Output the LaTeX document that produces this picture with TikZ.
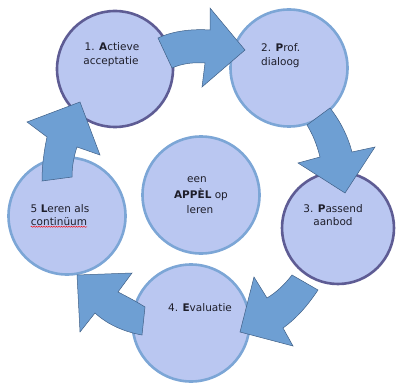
\documentclass[tikz,border=0pt]{standalone}
\usepackage{fontspec}
\setmainfont{DejaVu Sans}
\usetikzlibrary{decorations.pathmorphing}
\definecolor{cfill}{HTML}{BAC7F1}
\definecolor{cdark}{HTML}{5E5C94}
\definecolor{clight}{HTML}{7CA6D6}
\definecolor{afill}{HTML}{6E9FD3}
\definecolor{aline}{HTML}{3F5F86}
\definecolor{tcol}{HTML}{1E1E2A}
\tikzset{
  ring/.style={circle, fill=cfill, line width=2.6pt, inner sep=0pt},
  ringdark/.style={ring, draw=cdark},
  ringlight/.style={ring, draw=clight},
  blockarrow/.style={fill=afill, draw=aline, line width=0.5pt, line join=miter},
  lbl/.style={inner sep=0pt, anchor=base, text=tcol, font=\fontsize{10.5}{13}\selectfont},
}
\begin{document}
\begin{tikzpicture}[x=1pt,y=-1pt]
\useasboundingbox (0,0) rectangle (396,385);
% circles
\node[ringlight, minimum size=117pt] (c2) at (289,68) {};
\node[ringlight, minimum size=117pt] (c4) at (191,323) {};
\node[ringlight, minimum size=117pt] (c5) at (67,216) {};
\node[ringlight, minimum size=117pt] (cc) at (201,195) {};
\node[ringdark, minimum size=116pt] (c1) at (115,69) {};
\node[ringdark, minimum size=112pt] (c3) at (338,228) {};
% block arrows
\draw[blockarrow] (158,38) .. controls (175,30) and (195,29) .. (210,30) -- (210,8) -- (245,50) -- (202,87) -- (205,63) .. controls (192,62) and (181,64) .. (172,68) -- cycle;
\draw[blockarrow] (330,108) .. controls (341,122) and (348,137) .. (352,152) -- (375,147) -- (345,193) -- (298,163) -- (320,157) .. controls (317,145) and (313,135) .. (307,125) -- cycle;
\draw[blockarrow] (254,277) -- (267,298) .. controls (277,292) and (285,284) .. (292,275) -- (318,290) .. controls (308,305) and (297,318) .. (283,328) -- (293,346) -- (240,332) -- cycle;
\draw[blockarrow] (145,307) -- (142,335) .. controls (125,332) and (108,325) .. (95,313) -- (80,332) -- (77,275) -- (132,273) -- (118,292) .. controls (128,297) and (137,302) .. (145,307) -- cycle;
\draw[blockarrow] (42,181) -- (72,177) .. controls (72,166) and (74,156) .. (77,147) -- (100,155) -- (80,102) -- (27,122) -- (47,137) .. controls (44,151) and (42,166) .. (42,181) -- cycle;
% texts
\node[lbl] (t1a) at (112,51) {1. \textbf{A}ctieve};
\node[lbl] (t1b) at (111,65) {acceptatie};
\node[lbl, anchor=base west] (t2a) at (261,52) {2. \textbf{P}rof.};
\node[lbl, anchor=base west] (t2b) at (261,66) {dialoog};
\node[lbl] (t3a) at (333,212) {3. \textbf{P}assend};
\node[lbl] (t3b) at (333,225) {aanbod};
\node[lbl] (t4) at (200,311) {4. \textbf{E}valuatie};
\node[lbl] (t5a) at (60,212) {5 \textbf{L}eren als};
\node[lbl] (t5b) at (59,225) {continüum};
\draw[red, line width=0.4pt, decorate, decoration={snake, segment length=2.5pt, amplitude=0.6pt}]
  ([yshift=-1.8pt]t5b.base west) -- ([yshift=-1.8pt]t5b.base east);
\node[lbl] (tca) at (197,182) {een};
\node[lbl] (tcb) at (201,198) {\textbf{APPÈL} op};
\node[lbl] (tcc) at (200,213) {leren};
\end{tikzpicture}
\end{document}
